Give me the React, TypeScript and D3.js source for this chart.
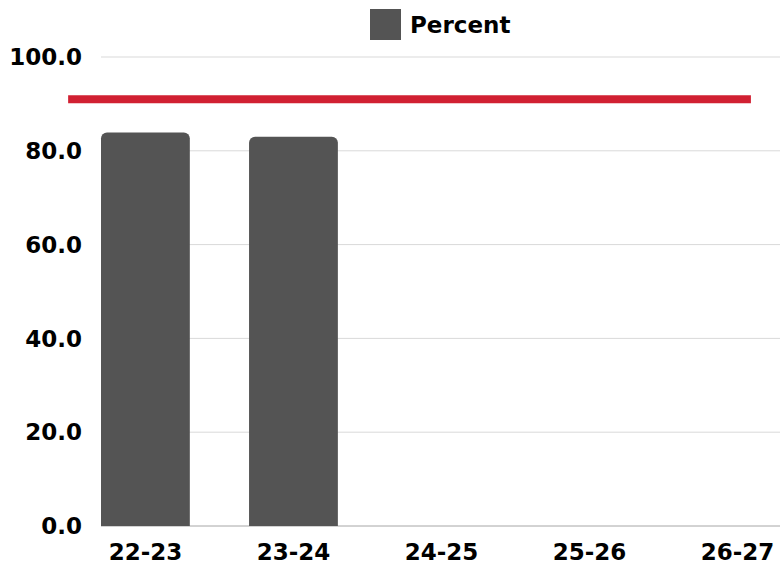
import React from "react";
import * as d3 from "d3";

const categories = ["22-23", "23-24", "24-25", "25-26", "26-27"];
const percentValues: (number | null)[] = [83.9, 83.0, null, null, null];
const targetValue = 91;
const yTicks = [0, 20, 40, 60, 80, 100];
const seriesName = "Percent";

const W = 780;
const H = 564;
const FONT = "'DejaVu Sans', sans-serif";
const FS = 23;

export default function App() {
  const x = d3.scaleBand<string>().domain(categories).range([101, 782]).paddingInner(0.4).paddingOuter(0);
  const y = d3.scaleLinear().domain([0, 100]).range([526, 57]);
  const bw = x.bandwidth();
  const r = 6;
  const fmt = d3.format(".1f");
  const step = x.step();
  const lineX1 = (x(categories[0]) as number) - step * 0.222;
  const lineX2 = (x(categories[categories.length - 1]) as number) + bw * 0.65;

  return (
    <svg width={W} height={H} style={{ position: "absolute", left: 0, top: 0, background: "#fff" }}>
      {yTicks.map((t) => (
        <g key={t}>
          <line x1={101} x2={W} y1={y(t)} y2={y(t)} stroke={t === 0 ? "#a6a6a6" : "#d9d9d9"} strokeWidth={1} />
          <text x={82} y={y(t)} dy="0.36em" textAnchor="end" fontFamily={FONT} fontWeight={700} fontSize={FS} fill="#000">
            {fmt(t)}
          </text>
        </g>
      ))}
      {categories.map((c, i) => {
        const v = percentValues[i];
        if (v == null) return null;
        const x0 = x(c) as number;
        const y0 = y(v);
        const y1 = y(0);
        const p = d3.path();
        p.moveTo(x0, y1);
        p.lineTo(x0, y0 + r);
        p.arcTo(x0, y0, x0 + r, y0, r);
        p.lineTo(x0 + bw - r, y0);
        p.arcTo(x0 + bw, y0, x0 + bw, y0 + r, r);
        p.lineTo(x0 + bw, y1);
        p.closePath();
        return <path key={c} d={p.toString()} fill="#545454" />;
      })}
      <line x1={lineX1} x2={lineX2} y1={y(targetValue)} y2={y(targetValue)} stroke="#d12032" strokeWidth={8} />
      {categories.map((c) => (
        <text key={c} x={(x(c) as number) + bw / 2} y={552} dy="0.36em" textAnchor="middle" fontFamily={FONT} fontWeight={700} fontSize={FS} fill="#000">
          {c}
        </text>
      ))}
      <rect x={370} y={9} width={31} height={31} fill="#545454" />
      <text x={410} y={25} dy="0.36em" fontFamily={FONT} fontWeight={700} fontSize={FS} fill="#000">
        {seriesName}
      </text>
    </svg>
  );
}
